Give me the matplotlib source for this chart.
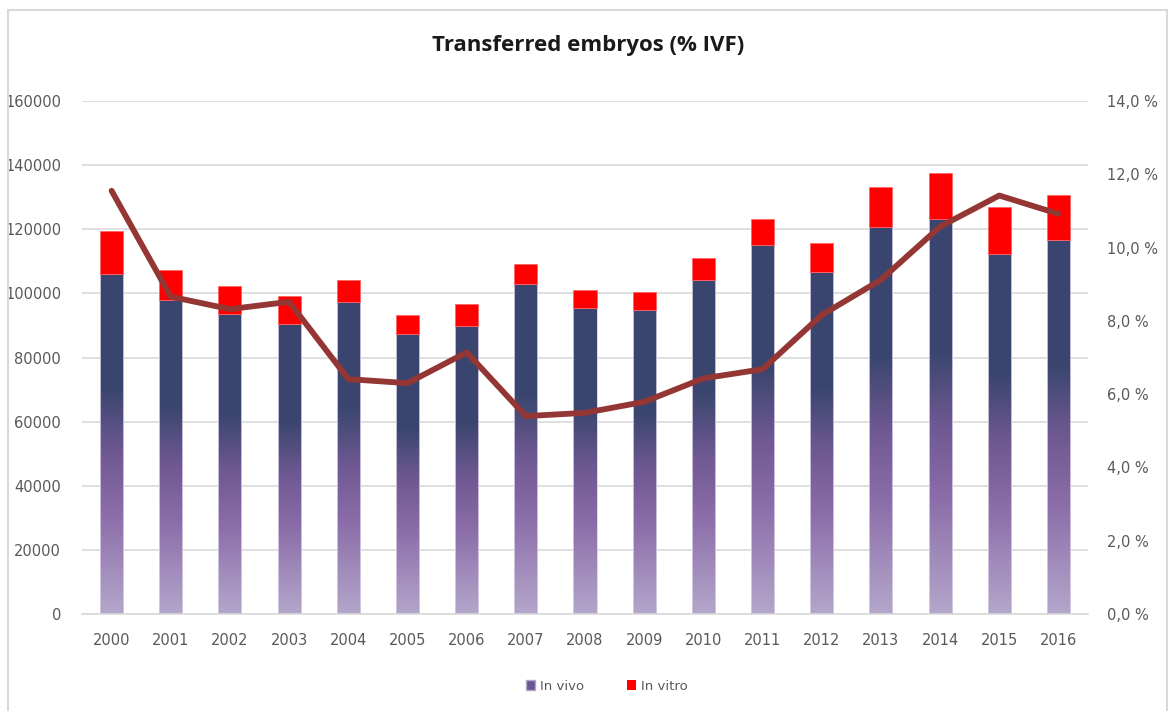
import numpy as np
import matplotlib
matplotlib.use("Agg")
import matplotlib.pyplot as plt
from matplotlib.colors import LinearSegmentedColormap
from matplotlib.patches import Rectangle, Patch
from matplotlib.ticker import FuncFormatter

years = ["2000", "2001", "2002", "2003", "2004", "2005", "2006", "2007", "2008",
         "2009", "2010", "2011", "2012", "2013", "2014", "2015", "2016"]
in_vivo = [106000, 97900, 93700, 90600, 97300, 87400, 89800, 102800, 95400,
           94800, 104100, 115100, 106600, 120700, 123200, 112200, 116500]
totals = [119500, 107200, 102200, 99200, 104100, 93100, 96700, 109100, 101100,
          100300, 110900, 123200, 115800, 133100, 137400, 126900, 130600]
in_vitro = [t - v for t, v in zip(totals, in_vivo)]
ivf_pct = [11.55, 8.66, 8.32, 8.52, 6.41, 6.30, 7.14, 5.40, 5.49,
           5.79, 6.43, 6.68, 8.16, 9.12, 10.57, 11.42, 10.92]

W, H = 1169, 711
fig = plt.figure(figsize=(W / 100, H / 100), dpi=100)
fig.patch.set_facecolor("white")

# outer chart frame
fig.add_artist(Rectangle((8 / W, -0.02), (1167 - 8) / W, (H - 10) / H + 0.02,
                         transform=fig.transFigure, fill=False,
                         edgecolor="#d9d9d9", linewidth=1.5))

ax = fig.add_axes([82 / W, (H - 614) / H, (1088 - 82) / W, (614 - 101) / H])
ax.set_xlim(-0.5, len(years) - 0.5)
ax.set_ylim(0, 160000)

x = np.arange(len(years))
bw = 0.39

cmap = LinearSegmentedColormap.from_list(
    "vivo", [(0.0, "#b4a6cb"), (0.30, "#8a6ca8"), (0.48, "#6e5892"),
             (0.66, "#3b466f"), (1.0, "#3a4570")])
grad = np.linspace(0, 1, 256).reshape(-1, 1)

for xi, v, r in zip(x, in_vivo, in_vitro):
    im = ax.imshow(grad, cmap=cmap, origin="lower", aspect="auto",
                   extent=[xi - bw / 2, xi + bw / 2, 0, v], zorder=2,
                   interpolation="bilinear")
    clip = Rectangle((xi - bw / 2, 0), bw, v, transform=ax.transData,
                     facecolor="none", edgecolor="none")
    ax.add_patch(clip)
    im.set_clip_path(clip)
ax.bar(x, in_vivo, bw, color="none", edgecolor="#d9cfe6", linewidth=0.6, zorder=3)
ax.bar(x, in_vitro, bw, bottom=in_vivo, color="#ff0000", edgecolor="#ff6060",
       linewidth=0.5, zorder=3)
ax.set_xlim(-0.5, len(years) - 0.5)
ax.set_ylim(0, 160000)

ax.set_yticks(np.arange(0, 160001, 20000))
ax.yaxis.grid(True, color="#d9d9d9", linewidth=1.2, zorder=0)
ax.set_axisbelow(True)
for s in ["top", "left", "right"]:
    ax.spines[s].set_visible(False)
ax.spines["bottom"].set_color("#d9d9d9")
ax.spines["bottom"].set_linewidth(1.2)
ax.set_xticks(x)
ax.set_xticklabels(years)
ax.tick_params(axis="both", length=0, labelsize=10.5, labelcolor="#595959")
ax.tick_params(axis="y", pad=15)
ax.tick_params(axis="x", pad=14)

ax2 = ax.twinx()
ax2.set_ylim(0, 14)
ax2.set_yticks(np.arange(0, 14.01, 2))
ax2.yaxis.set_major_formatter(FuncFormatter(lambda v, p: f"{v:.1f}".replace(".", ",") + " %"))
ax2.plot(x, ivf_pct, color="#943634", linewidth=4.2, solid_capstyle="round",
         solid_joinstyle="round", zorder=5)
for s in ["top", "left", "right", "bottom"]:
    ax2.spines[s].set_visible(False)
ax2.tick_params(axis="y", length=0, labelsize=10.5, labelcolor="#595959", pad=14)

fig.text(588 / W, 1 - 45 / H, "Transferred embryos (% IVF)", ha="center", va="center",
         fontsize=16, fontweight="bold", family="Open Sans", color="#1a1a1a")

handles = [Patch(facecolor="#6a5690", edgecolor="#b4a6cb", label="In vivo"),
           Patch(facecolor="#ff0000", label="In vitro")]
fig.legend(handles=handles, loc="center", bbox_to_anchor=(607 / W, 1 - 686 / H),
           ncol=2, frameon=False, fontsize=9.5, handlelength=0.7, handleheight=0.7,
           handletextpad=0.4, columnspacing=3.2, labelcolor="#595959")

fig.savefig("out.png", dpi=100)
